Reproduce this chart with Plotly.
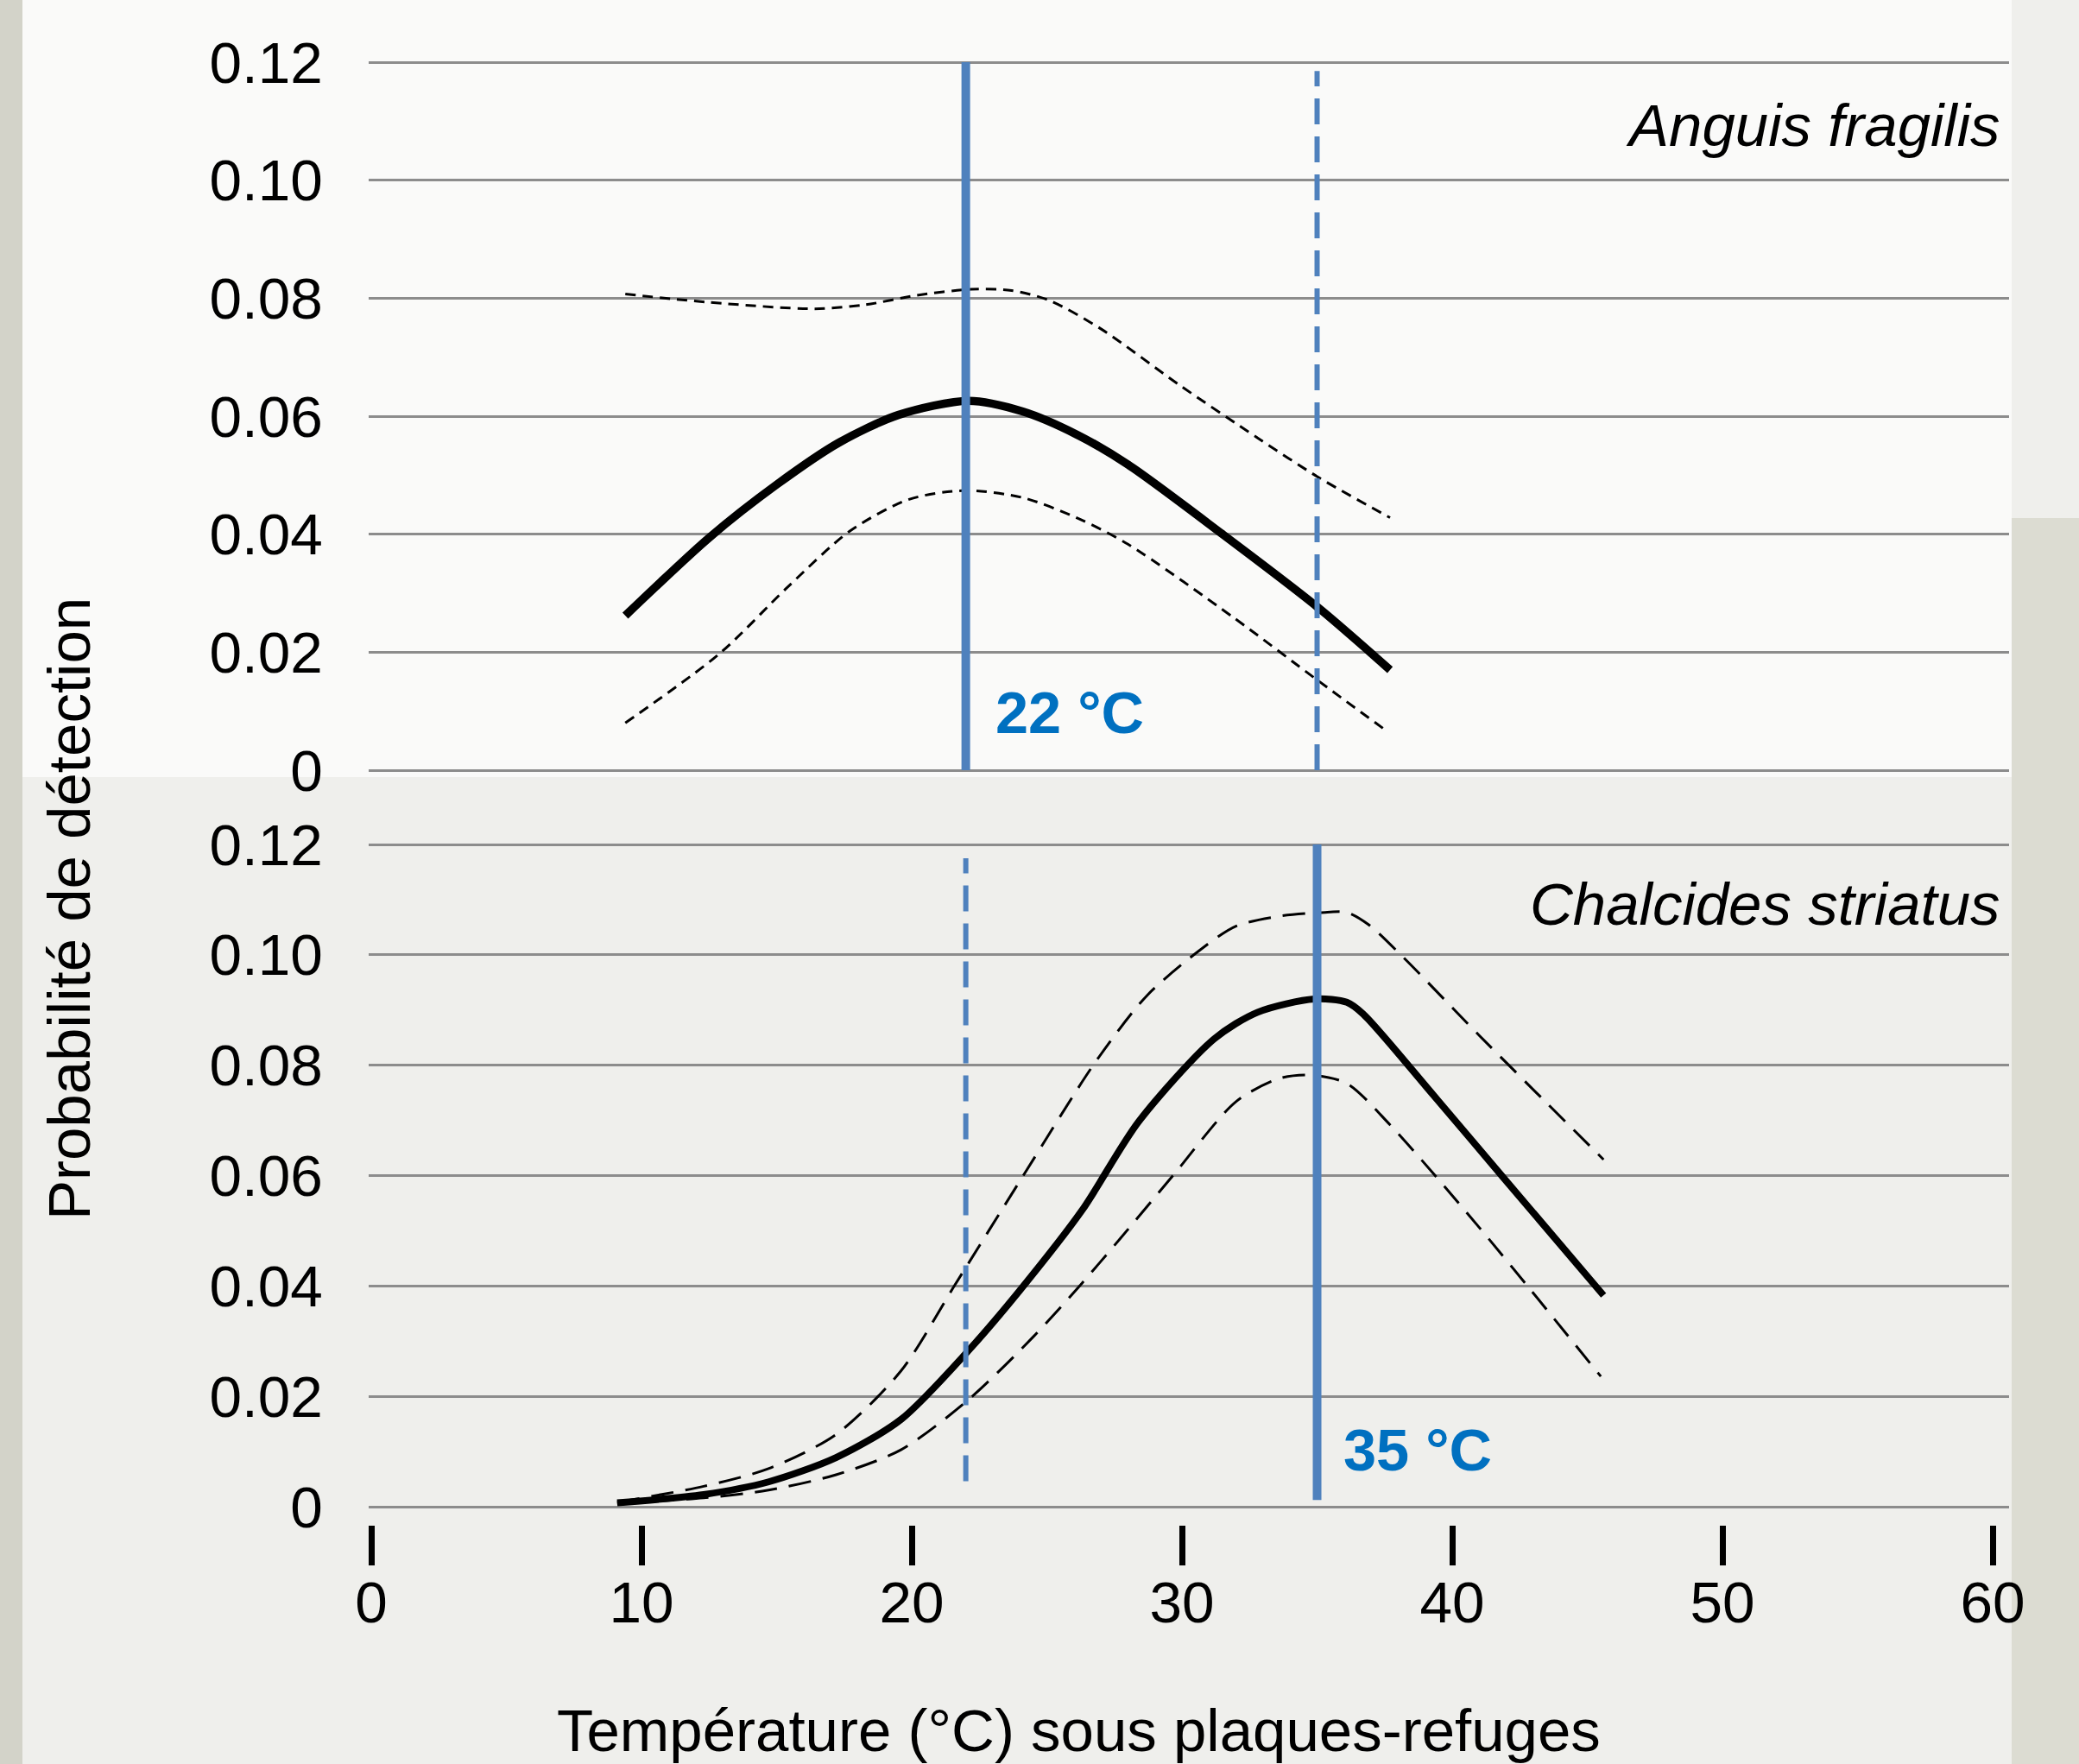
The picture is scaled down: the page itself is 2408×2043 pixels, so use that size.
import plotly.graph_objects as go

# ---------------- data ----------------
# Anguis fragilis (top panel)
af_x = [9.4, 12.5, 15.0, 17.3, 19.5, 22.1, 24.1, 26.1, 28.0, 31.5, 35.0, 37.7]
af_mean = [0.0262, 0.0394, 0.0484, 0.0555, 0.0602, 0.0626, 0.0608, 0.0569, 0.0518, 0.0400, 0.0277, 0.0170]
af_up_x = [9.4, 12.5, 16.4, 18.3, 20.2, 22.2, 23.7, 25.1, 27.0, 29.9, 32.8, 35.1, 37.7]
af_up = [0.0807, 0.0793, 0.0782, 0.0789, 0.0805, 0.0815, 0.0813, 0.0796, 0.0748, 0.0653, 0.0563, 0.0495, 0.0428]
af_lo_x = [9.4, 12.9, 15.4, 17.7, 19.9, 22.0, 24.1, 26.1, 28.0, 31.9, 35.0, 37.5]
af_lo = [0.0080, 0.0198, 0.0310, 0.0405, 0.0459, 0.0474, 0.0462, 0.0428, 0.0383, 0.0259, 0.0153, 0.0069]

# Chalcides striatus (bottom panel)
cs_x = [9.1, 12.3, 14.7, 17.2, 19.6, 22.1, 24.0, 26.3, 28.4, 31.2, 32.8, 34.9, 36.1, 36.7, 39.3, 41.9, 45.6]
cs_mean = [0.0007, 0.0022, 0.0045, 0.0089, 0.0158, 0.0283, 0.0392, 0.0537, 0.0698, 0.0848, 0.0896, 0.0920, 0.0914, 0.0893, 0.0746, 0.0596, 0.0383]
cs_up_x = [9.1, 12.3, 14.7, 17.2, 19.6, 21.6, 24.0, 26.8, 28.7, 30.7, 32.0, 33.6, 35.3, 36.1, 36.9, 38.2, 41.0, 45.6]
cs_up = [0.0008, 0.0037, 0.0069, 0.0131, 0.0246, 0.0402, 0.0590, 0.0806, 0.0926, 0.1010, 0.1052, 0.1070, 0.1077, 0.1077, 0.1055, 0.0995, 0.0854, 0.0629]
cs_lo_x = [9.1, 12.3, 14.7, 17.2, 19.6, 22.1, 24.5, 26.3, 27.7, 29.7, 32.0, 33.6, 34.8, 36.1, 37.7, 41.0, 45.5]
cs_lo = [0.0006, 0.0016, 0.0030, 0.0058, 0.0103, 0.0194, 0.0308, 0.0405, 0.0485, 0.0602, 0.0734, 0.0776, 0.0782, 0.0767, 0.0692, 0.0506, 0.0236]

# reference temperatures
opt_af = 22
opt_cs = 35
x_ticks = [0, 10, 20, 30, 40, 50, 60]
y_ticks = [0, 0.02, 0.04, 0.06, 0.08, 0.10, 0.12]
y_ticklabels = ["0", "0.02", "0.04", "0.06", "0.08", "0.10", "0.12"]

# ---------------- styles ----------------
FONT = "Arial, Liberation Sans, sans-serif"
FS_TICK = 67.5
FS_TXT = 69
BLUE_LINE = "#4f81bd"
BLUE_TEXT = "#0070c0"
GRID = "#8c8c8c"
SM = 0.8

fig = go.Figure()

# top panel curves
fig.add_trace(go.Scatter(x=af_up_x, y=af_up, mode="lines", line=dict(color="black", width=3, dash="12px,8px", shape="spline", smoothing=SM), xaxis="x", yaxis="y"))
fig.add_trace(go.Scatter(x=af_lo_x, y=af_lo, mode="lines", line=dict(color="black", width=3, dash="12px,8px", shape="spline", smoothing=SM), xaxis="x", yaxis="y"))
fig.add_trace(go.Scatter(x=af_x, y=af_mean, mode="lines", line=dict(color="black", width=9.5, shape="spline", smoothing=SM), xaxis="x", yaxis="y"))
# top panel vertical lines
fig.add_trace(go.Scatter(x=[opt_af, opt_af], y=[0, 0.12], mode="lines", line=dict(color=BLUE_LINE, width=10), xaxis="x", yaxis="y"))
fig.add_trace(go.Scatter(x=[opt_cs, opt_cs], y=[0, 0.1185], mode="lines", line=dict(color=BLUE_LINE, width=6, dash="30px,14px"), xaxis="x", yaxis="y"))

# bottom panel curves
fig.add_trace(go.Scatter(x=cs_up_x, y=cs_up, mode="lines", line=dict(color="black", width=3, dash="26px,14px", shape="spline", smoothing=SM), xaxis="x2", yaxis="y2"))
fig.add_trace(go.Scatter(x=cs_lo_x, y=cs_lo, mode="lines", line=dict(color="black", width=3, dash="26px,14px", shape="spline", smoothing=SM), xaxis="x2", yaxis="y2"))
fig.add_trace(go.Scatter(x=cs_x, y=cs_mean, mode="lines", line=dict(color="black", width=8, shape="spline", smoothing=SM), xaxis="x2", yaxis="y2"))
# bottom panel vertical lines
fig.add_trace(go.Scatter(x=[opt_af, opt_af], y=[0.0046, 0.1175], mode="lines", line=dict(color=BLUE_LINE, width=6, dash="30px,14px"), xaxis="x2", yaxis="y2"))
fig.add_trace(go.Scatter(x=[opt_cs, opt_cs], y=[0.0012, 0.12], mode="lines", line=dict(color=BLUE_LINE, width=10), xaxis="x2", yaxis="y2"))

W, H = 2408, 2043
xdom = [426.9 / W, 2326.8 / W]

yaxis_common = dict(
    tickvals=y_ticks, ticktext=y_ticklabels, showgrid=True, gridcolor=GRID, gridwidth=3,
    zeroline=False, showline=False, ticks="", ticklabelstandoff=52, automargin=False,
    tickfont=dict(family=FONT, size=FS_TICK, color="black"),
)

fig.update_layout(
    width=W, height=H,
    autosize=False,
    margin=dict(l=0, r=0, t=0, b=0, pad=0),
    paper_bgcolor="#efefec",
    plot_bgcolor="rgba(0,0,0,0)",
    showlegend=False,
    font=dict(family=FONT, size=FS_TXT, color="black"),
    xaxis=dict(domain=xdom, range=[-0.1, 60.6], anchor="y", matches="x2", automargin=False,
               showticklabels=False, ticks="", showgrid=False, zeroline=False, showline=False),
    xaxis2=dict(domain=xdom, range=[-0.1, 60.6], anchor="y2", tickvals=x_ticks, automargin=False,
                ticks="outside", ticklen=46, tickwidth=7, tickcolor="black",
                showgrid=False, zeroline=False, showline=False, ticklabelstandoff=-15,
                tickfont=dict(family=FONT, size=FS_TICK, color="black")),
    yaxis=dict(domain=[1 - 896.1 / H, 1 - 67.9 / H], range=[-0.0006, 0.1206], anchor="x", **yaxis_common),
    yaxis2=dict(domain=[1 - 1766.1 / H, 1 - 974.2 / H], range=[-0.0033, 0.1206], anchor="x2", **yaxis_common),
    shapes=[
        dict(type="rect", xref="paper", yref="paper", x0=26 / W, x1=2330 / W, y0=1 - 900 / H, y1=1,
             fillcolor="#fafaf9", line=dict(width=0), layer="below"),
        dict(type="rect", xref="paper", yref="paper", x0=0, x1=26 / W, y0=0, y1=1,
             fillcolor="#d3d3c9", line=dict(width=0), layer="below"),
        dict(type="rect", xref="paper", yref="paper", x0=2330 / W, x1=1, y0=0, y1=1 - 600 / H,
             fillcolor="#dcdcd2", line=dict(width=0), layer="below"),
    ],
    annotations=[
        dict(text="<i>Anguis fragilis</i>", xref="paper", yref="paper", x=2319 / W, y=1 - 146 / H,
             xanchor="right", yanchor="middle", showarrow=False, font=dict(family=FONT, size=FS_TXT, color="black")),
        dict(text="<i>Chalcides striatus</i>", xref="paper", yref="paper", x=2319 / W, y=1 - 1047 / H,
             xanchor="right", yanchor="middle", showarrow=False, font=dict(family=FONT, size=FS_TXT, color="black")),
        dict(text="<b>22 °C</b>", xref="x", yref="y", x=23.05, y=0.0098,
             xanchor="left", yanchor="middle", showarrow=False, font=dict(family=FONT, size=68.5, color=BLUE_TEXT)),
        dict(text="<b>35 °C</b>", xref="x2", yref="y2", x=35.9, y=0.0103,
             xanchor="left", yanchor="middle", showarrow=False, font=dict(family=FONT, size=68.5, color=BLUE_TEXT)),
        dict(text="Température (°C) sous plaques-refuges", xref="paper", yref="paper", x=1249 / W, y=1 - 2004 / H,
             xanchor="center", yanchor="middle", showarrow=False, font=dict(family=FONT, size=FS_TXT, color="black")),
        dict(text="Probabilité de détection", xref="paper", yref="paper", x=80 / W, y=1 - 1053 / H,
             xanchor="center", yanchor="middle", textangle=-90, showarrow=False,
             font=dict(family=FONT, size=FS_TXT, color="black")),
    ],
)

fig.write_html("out.html", config={"displayModeBar": False},
               post_script="document.body.style.margin='0px';")
